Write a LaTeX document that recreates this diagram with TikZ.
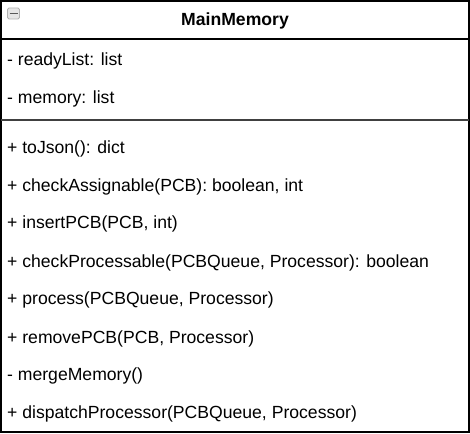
\documentclass[tikz,border=0pt]{standalone}
\usepackage{fontspec}
\setmainfont{Liberation Sans}
\begin{document}
\begin{tikzpicture}[x=1pt,y=-1pt,
  member/.style={anchor=west,inner sep=0pt,yshift=-2pt,font=\fontsize{17.6}{20}\selectfont},
  title/.style={inner sep=0pt,yshift=-1pt,font=\fontsize{17.6}{20}\selectfont\bfseries},
  frame/.style={draw=black,line width=1.3pt}]
\useasboundingbox (0,0) rectangle (470,433);
\fill[white] (0,0) rectangle (470,433);
\draw[frame] (1,1) rectangle (469,432);
\draw[frame] (1,39) -- (469,39);
\draw[draw=black!75,line width=1.6pt] (1,120) -- (469,120);
% collapse icon
\node[draw=gray!60,line width=0.8pt,fill=gray!20,rounded corners=1.5pt,minimum width=12pt,minimum height=11pt,inner sep=0pt] (icon) at (13.5,13.5) {};
\draw[black!65,line width=1.8pt] (9.5,13.5) -- (17.5,13.5);
\node[title] (name) at (235,20) {MainMemory};
\node[member] (a1) at (7,59) {- readyList: list};
\node[member] (a2) at (7,97) {- memory: list};
\node[member] (o1) at (7,147) {+ toJson(): dict};
\node[member] (o2) at (7,185) {+ checkAssignable(PCB): boolean, int};
\node[member] (o3) at (7,222) {+ insertPCB(PCB, int)};
\node[member] (o4) at (7,261) {+ checkProcessable(PCBQueue, Processor): boolean};
\node[member] (o5) at (7,298) {+ process(PCBQueue, Processor)};
\node[member] (o6) at (7,337) {+ removePCB(PCB, Processor)};
\node[member] (o7) at (7,374) {- mergeMemory()};
\node[member] (o8) at (7,412) {+ dispatchProcessor(PCBQueue, Processor)};
\end{tikzpicture}
\end{document}
